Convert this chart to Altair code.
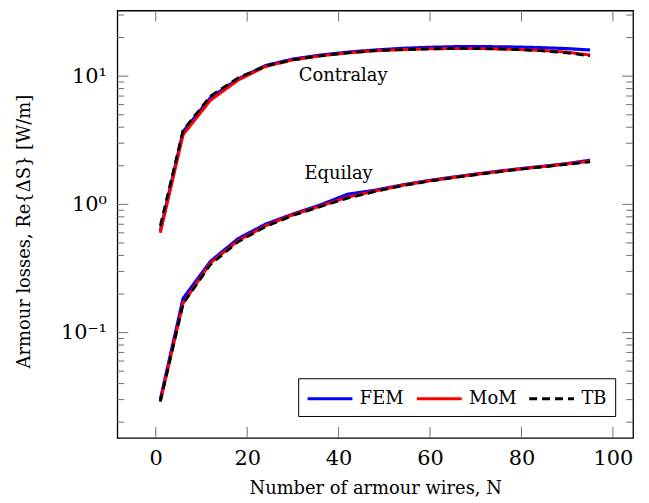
import altair as alt
import pandas as pd

# ---------------- data ----------------
N = [1, 6, 12, 18, 24, 30, 36, 42, 48, 54, 60, 66, 72, 78, 84, 90, 95]

contra_fem = [0.62, 3.7, 6.8, 9.5, 12.1, 13.6, 14.6, 15.4, 16.0, 16.5, 16.8, 17.0, 17.0, 16.9, 16.7, 16.4, 16.0]
contra_mom = [0.60, 3.5, 6.5, 9.3, 11.9, 13.4, 14.4, 15.2, 15.8, 16.1, 16.35, 16.45, 16.4, 16.2, 15.9, 15.4, 14.6]
contra_tb = [0.68, 3.8, 7.0, 9.7, 12.0, 13.4, 14.4, 15.2, 15.8, 16.1, 16.35, 16.45, 16.4, 16.2, 15.8, 15.2, 14.4]

equi_fem = [0.030, 0.185, 0.36, 0.54, 0.70, 0.84, 0.99, 1.20, 1.29, 1.42, 1.54, 1.65, 1.76, 1.87, 1.97, 2.08, 2.21]
equi_mom = [0.029, 0.170, 0.35, 0.52, 0.68, 0.83, 0.97, 1.14, 1.27, 1.41, 1.53, 1.64, 1.75, 1.86, 1.96, 2.07, 2.17]
equi_tb = [0.029, 0.168, 0.34, 0.51, 0.67, 0.82, 0.96, 1.12, 1.26, 1.40, 1.52, 1.63, 1.74, 1.85, 1.95, 2.05, 2.15]

methods = ["FEM", "MoM", "TB"]
colors = ["#0000ff", "#ff0000", "#000000"]

annot_text = ["Contralay", "Equilay"]
annot_x = [41, 40]
annot_y = [10.0, 1.73]

x_ticks = [0, 20, 40, 60, 80, 100]
y_major = [0.1, 1, 10]
y_minor = [round(m * 10.0 ** k, 6) for k in (-2, -1, 0, 1) for m in range(2, 10)
           if 0.0151 <= m * 10.0 ** k <= 32.5]

# ---------------- build tables ----------------
rows = []
series = {
    "FEM": (contra_fem, equi_fem),
    "MoM": (contra_mom, equi_mom),
    "TB": (contra_tb, equi_tb),
}
for m, (c, e) in series.items():
    for n, v in zip(N, c):
        rows.append({"N": n, "loss": v, "method": m, "config": "Contralay"})
    for n, v in zip(N, e):
        rows.append({"N": n, "loss": v, "method": m, "config": "Equilay"})
df = pd.DataFrame(rows)

FONT = "DejaVu Serif"
W, H = 519, 430

xscale = alt.Scale(domain=[-8.4, 104.4], nice=False, zero=False)
yscale = alt.Scale(type="log", domain=[0.0151, 32.5], nice=False)

color = alt.Color(
    "method:N",
    scale=alt.Scale(domain=methods, range=colors),
    legend=alt.Legend(
        title=None, orient="none", legendX=182, legendY=370,
        direction="horizontal", columns=3,
        symbolType="M-1,0H3.1", symbolSize=484, symbolStrokeWidth=3,
        labelFont=FONT, labelFontSize=18, labelColor="black",
        labelOffset=29, columnPadding=6, padding=8,
        strokeColor="black", fillColor="white",
    ),
)
dash = alt.StrokeDash(
    "method:N",
    scale=alt.Scale(domain=methods, range=[[1, 0], [1, 0], [8, 5]]),
    legend=None,
)

xaxis = alt.Axis(values=x_ticks, ticks=False, domain=False, grid=False,
                 labelFont=FONT, labelFontSize=21, labelColor="black", labelPadding=10,
                 title="Number of armour wires, N", titleFont=FONT, titleFontSize=18,
                 titleFontWeight="normal", titleColor="black", titlePadding=11)
yaxis = alt.Axis(values=y_major, ticks=False, domain=False, grid=False,
                 labelExpr="datum.value >= 5 ? '10¹' : (datum.value >= 0.5 ? '10⁰' : '10⁻¹')",
                 labelFont=FONT, labelFontSize=21, labelColor="black", labelPadding=11,
                 title="Armour losses, Re{ΔS} [W/m]", titleFont=FONT, titleFontSize=18,
                 titleFontWeight="normal", titleColor="black",
                 titleX=-93, titleY=222, titleBaseline="middle")

layers = []
widths = {"FEM": 3.2, "MoM": 3.0, "TB": 2.8}
for m in methods:
    layers.append(
        alt.Chart(df[df.method == m]).mark_line(strokeWidth=widths[m], clip=True).encode(
            x=alt.X("N:Q", scale=xscale, axis=xaxis),
            y=alt.Y("loss:Q", scale=yscale, axis=yaxis),
            color=color,
            strokeDash=dash,
            detail="config:N",
        )
    )

ann = pd.DataFrame({"N": annot_x, "loss": annot_y, "t": annot_text})
text = alt.Chart(ann).mark_text(font=FONT, fontSize=18, color="black").encode(
    x=alt.X("N:Q", scale=xscale, axis=xaxis),
    y=alt.Y("loss:Q", scale=yscale, axis=yaxis),
    text="t:N",
)

tick_color = "#707070"
ymaj = pd.DataFrame({"loss": y_major})
ymin = pd.DataFrame({"loss": y_minor})
xt = pd.DataFrame({"N": x_ticks})

def yrule(d, x1, x2):
    return alt.Chart(d).mark_rule(color=tick_color, strokeWidth=1).encode(
        y=alt.Y("loss:Q", scale=yscale, axis=yaxis),
        x=alt.value(x1), x2=alt.value(x2),
    )

def xrule(y1, y2):
    return alt.Chart(xt).mark_rule(color=tick_color, strokeWidth=1).encode(
        x=alt.X("N:Q", scale=xscale, axis=xaxis),
        y=alt.value(y1), y2=alt.value(y2),
    )

ticks = [
    yrule(ymaj, 0, 11), yrule(ymin, 0, 7),
    yrule(ymaj, W - 11, W), yrule(ymin, W - 7, W),
    xrule(H, H - 11), xrule(0, 11),
]

chart = alt.layer(*layers, *ticks, text).properties(
    width=W, height=H,
    autosize=alt.AutoSizeParams(type="none"),
    padding={"left": 110, "top": 1, "right": 8, "bottom": 64},
).configure_view(
    stroke="black", strokeWidth=1.3,
)

chart.save("out.html", embed_options={"renderer": "svg", "actions": False})
